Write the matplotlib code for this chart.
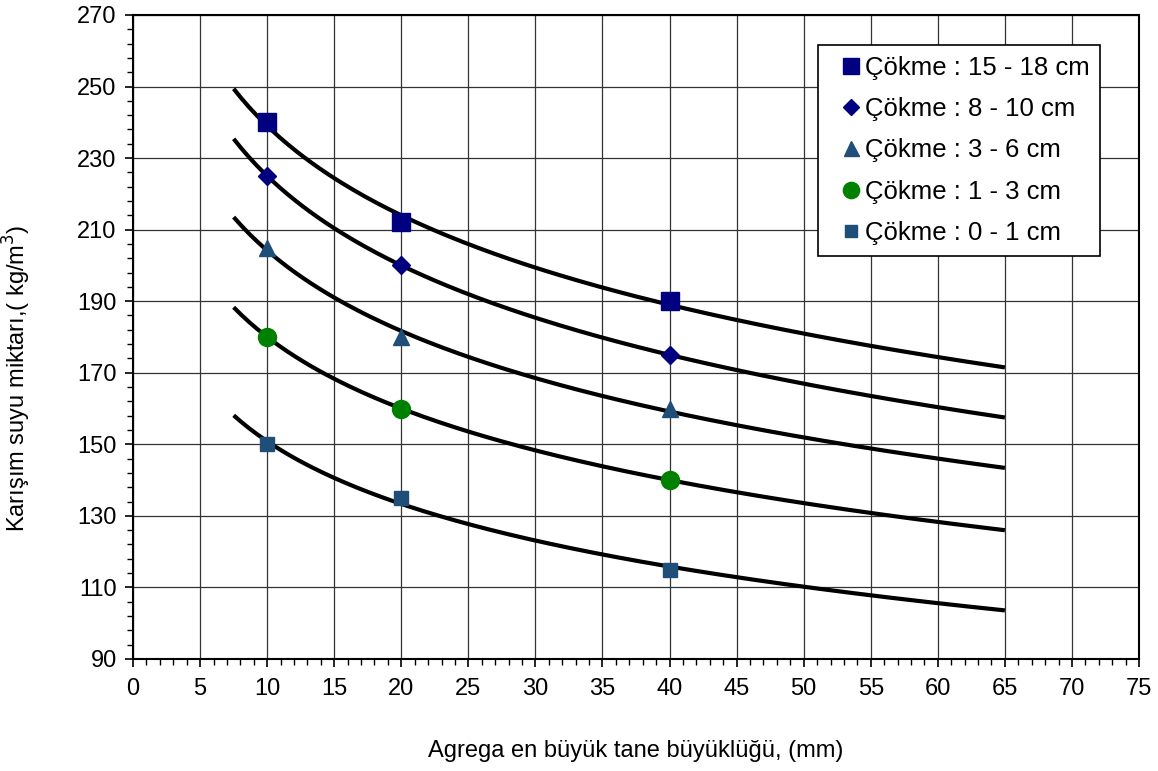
#!/usr/bin/env python3

import matplotlib
matplotlib.use("Agg")
import matplotlib.pyplot as plt
from matplotlib.ticker import FixedLocator
import numpy as np

plt.rcParams['font.family'] = ['Liberation Sans', 'DejaVu Sans']

# max aggregate size (mm)
sizes = [10, 20, 40]

labels = [
    "Çökme : 15 - 18 cm",
    "Çökme : 8 - 10 cm",
    "Çökme : 3 - 6 cm",
    "Çökme : 1 - 3 cm",
    "Çökme : 0 - 1 cm",
]
water_15_18 = [240, 212, 190]
water_8_10 = [225, 200, 175]
water_3_6 = [205, 180, 160]
water_1_3 = [180, 160, 140]
water_0_1 = [150, 135, 115]
series = [water_15_18, water_8_10, water_3_6, water_1_3, water_0_1]

markers = ['s', 'D', '^', 'o', 's']
colors = ['#000080', '#000080', '#1F4E79', '#008000', '#1F4E79']
msizes = [12.5, 9, 12, 13, 9.5]

# trendline range
x_start, x_end = 7.5, 65

fig = plt.figure(figsize=(11.58, 7.71), dpi=100)
ax = fig.add_axes([0.1149, 0.1453, 0.8687, 0.8353])

xs = np.linspace(x_start, x_end, 200)
for vals, m, c, ms, lab in zip(series, markers, colors, msizes, labels):
    # logarithmic trendline, as in the spreadsheet
    b, a = np.polyfit(np.log(sizes), vals, 1)
    ax.plot(xs, a + b * np.log(xs), color="black", lw=3, zorder=3,
            solid_capstyle="butt")
    ax.plot(sizes, vals, linestyle="none", marker=m, color=c, markersize=ms,
            label=lab, zorder=4)

ax.set_xlim(0, 75)
ax.set_ylim(90, 270)
ax.set_xticks(np.arange(0, 76, 5))
ax.xaxis.set_minor_locator(FixedLocator(np.arange(0, 76, 1)))
ax.set_yticks(np.arange(90, 271, 20))
ax.yaxis.set_minor_locator(FixedLocator(np.arange(90, 271, 4)))
ax.tick_params(which="major", direction="out", length=5.8, width=1.2, labelsize=17)
ax.tick_params(axis="x", which="major", pad=8)
ax.tick_params(axis="y", which="major", pad=6)
ax.tick_params(which="minor", direction="out", length=4, width=1)
ax.grid(True, which="major", color="#333333", lw=0.9)
for s in ax.spines.values():
    s.set_linewidth(1.5)

ax.set_ylabel("Karışım suyu miktarı,( kg/m$^3$)", fontsize=17)
ax.yaxis.set_label_coords(-0.0994, 0.436)
fig.text(0.5 * (0.1149 + 0.9836), 0.012, "Agrega en büyük tane büyüklüğü, (mm)",
         ha="center", va="bottom", fontsize=17)

leg = ax.legend(loc="upper right", bbox_to_anchor=(0.961, 0.953), borderaxespad=0,
                fontsize=18.5, frameon=True, fancybox=False, edgecolor="black",
                framealpha=1, handletextpad=-0.38, handlelength=1.8,
                labelspacing=0.68, borderpad=0.4, markerscale=0.9)
leg.get_frame().set_linewidth(1.2)

fig.savefig("out.png", dpi=100)
